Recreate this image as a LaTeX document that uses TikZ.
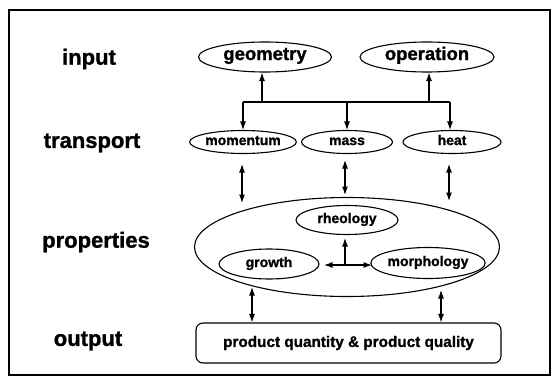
\documentclass[tikz,border=0pt]{standalone}
\usepackage{fontspec}
\setmainfont{Liberation Sans}[BoldFeatures={FakeBold=1.2}]
\usetikzlibrary{shapes.geometric,arrows.meta}
\begin{document}
\begin{tikzpicture}[x=1pt,y=-1pt,
  lbl/.style={font=\fontsize{22}{24}\selectfont\bfseries},
  ell/.style={draw,ellipse,line width=1.1pt,inner sep=0pt,text height=1.6ex,text depth=0.45ex},
  tip/.tip={Latex[length=8.5pt,width=6pt]},
  arr/.style={line width=1.1pt,-tip},
  darr/.style={line width=1.1pt,tip-tip},
  ln/.style={line width=1.1pt}]
\useasboundingbox (0,0) rectangle (553,382);
\draw[line width=1.4pt] (9,10) rectangle (550,375);
% left labels
\node[lbl] (Linput) at (89,59) {input};
\node[lbl] (Ltrans) at (92,143) {transport};
\node[lbl] (Lprop) at (96,242) {properties};
\node[lbl] (Lout) at (88,341) {output};
% input
\node[ell,minimum width=133pt,minimum height=30pt,font=\fontsize{18.5}{20}\selectfont\bfseries] (geo) at (265,57) {geometry};
\node[ell,minimum width=134pt,minimum height=30pt,font=\fontsize{18.5}{20}\selectfont\bfseries] (op) at (427,57) {operation};
% transport
\node[ell,minimum width=97pt,minimum height=23pt,font=\fontsize{14}{15}\selectfont\bfseries] (mom) at (243,142) {momentum};
\node[ell,minimum width=91pt,minimum height=23pt,font=\fontsize{14}{15}\selectfont\bfseries] (mass) at (347,142) {mass};
\node[ell,minimum width=98pt,minimum height=23pt,font=\fontsize{14}{15}\selectfont\bfseries] (heat) at (452,142) {heat};
% properties
\node[ell,minimum width=305pt,minimum height=99pt] (big) at (347,247) {};
\node[ell,minimum width=102pt,minimum height=29pt,font=\fontsize{14}{15}\selectfont\bfseries] (rheo) at (347,220) {rheology};
\node[ell,minimum width=100pt,minimum height=30pt,font=\fontsize{14}{15}\selectfont\bfseries] (growth) at (269,264) {growth};
\node[ell,minimum width=102pt,minimum height=31pt,font=\fontsize{14}{15}\selectfont\bfseries] (morph) at (428,263) {morphology};
% output
\node[draw,rounded corners=7pt,line width=1.1pt,minimum width=305pt,minimum height=40pt,font=\fontsize{15.3}{17}\selectfont\bfseries] (out) at (348.5,343) {product quantity \& product quality};
% bus
\coordinate (busL) at (243,102);
\coordinate (busR) at (450,102);
\coordinate (busG) at (262,102);
\coordinate (busO) at (429,102);
\draw[ln] (busL) -- (busR);
\draw[arr] (busG) -- (busG |- geo.south);
\draw[arr] (busO) -- (busO |- op.south);
\draw[arr] (busL) -- (mom.north);
\draw[arr] (mass.north |- busL) -- (mass.north);
\draw[arr] (busR) -- (busR |- heat.north);
% transport <-> properties
\coordinate (m1) at (242,164); \coordinate (m2) at (242,203);
\coordinate (s1) at (345,160); \coordinate (s2) at (345,195);
\coordinate (h1) at (449,164); \coordinate (h2) at (449,201);
\draw[darr] (m1) -- (m2);
\draw[darr] (s1) -- (s2);
\draw[darr] (h1) -- (h2);
% inside
\coordinate (c) at (345,265);
\coordinate (ct) at (345,238);
\draw[arr] (c) -- (ct);
\coordinate (cl) at (324,265); \coordinate (cr) at (372,265);
\draw[darr] (cl) -- (cr);
% properties <-> output
\coordinate (o1) at (252,287); \coordinate (o2) at (441,290);
\draw[darr] (o1) -- (o1 |- out.north);
\draw[darr] (o2) -- (o2 |- out.north);
\end{tikzpicture}
\end{document}
